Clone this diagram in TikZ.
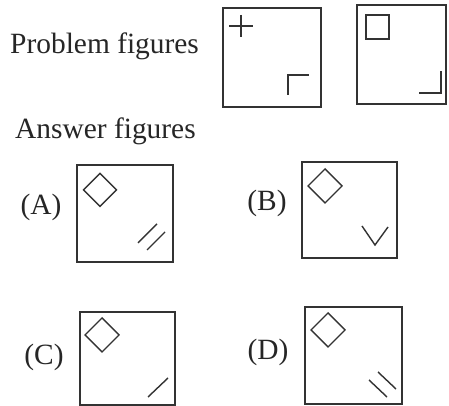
\documentclass[tikz,border=0pt]{standalone}
\usepackage{fontspec}
\setmainfont{Liberation Serif}
\begin{document}
\begin{tikzpicture}[x=0.85pt,y=-0.85pt,
  fig/.style={draw=black!80,line width=1.3pt},
  mark1/.style={draw=black!80,line width=1.2pt},
  head/.style={anchor=base west,inner sep=0pt,text=black!85,font=\fontsize{25}{29}\selectfont},
  lab/.style={anchor=center,inner sep=0pt,text=black!85,font=\fontsize{25}{29}\selectfont}]
\useasboundingbox[fill=white] (0,0) rectangle (449,406);
% headings
\node[head] (ph) at (10,54) {Problem figures};
\node[head] (ah) at (15,139) {Answer figures};
% problem figure 1
\draw[fig] (223,8) rectangle (321,107);
\draw[mark1] (229,26) -- (253,26) (241,15) -- (241,37);
\draw[mark1] (288,95) -- (288,75) -- (309,75);
% problem figure 2
\draw[fig] (357,5) rectangle (446,104);
\draw[mark1] (366,15) rectangle (389,39);
\draw[mark1] (419,93) -- (441,93) -- (441,71);
% (A)
\node[lab] (la) at (41,207) {(A)};
\draw[fig] (77,165) rectangle (173,262);
\draw[mark1] (100,173.5) -- (116.5,190) -- (100,206.5) -- (83.5,190) -- cycle;
\draw[mark1] (138,243) -- (157,224) (147,250) -- (165,232);
% (B)
\node[lab] (lb) at (267,203) {(B)};
\draw[fig] (302,162) rectangle (397,258);
\draw[mark1] (325,169) -- (342,186) -- (325,203) -- (308,186) -- cycle;
\draw[mark1] (362,226) -- (375,245) -- (388,227);
% (C)
\node[lab] (lc) at (44,357) {(C)};
\draw[fig] (80,312) rectangle (175,405);
\draw[mark1] (102,318) -- (119,335) -- (102,352) -- (85,335) -- cycle;
\draw[mark1] (148,397) -- (168,378);
% (D)
\node[lab] (ld) at (268,352) {(D)};
\draw[fig] (305,307) rectangle (402,404);
\draw[mark1] (328,313) -- (345,330) -- (328,347) -- (311,330) -- cycle;
\draw[mark1] (369,380) -- (387,397) (378,372) -- (396,389);
\end{tikzpicture}
\end{document}
